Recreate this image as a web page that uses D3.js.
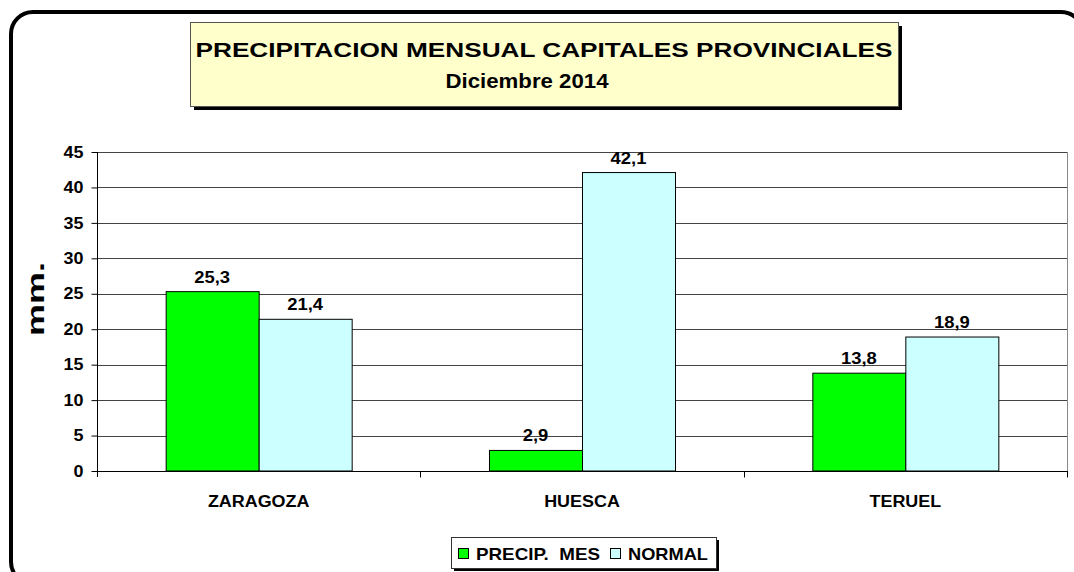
<!DOCTYPE html>
<html>
<head>
<meta charset="utf-8">
<script src="https://cdn.jsdelivr.net/npm/d3@7"></script>
<style>
  body { margin: 0; background: #fff; }
  svg { display: block; font-family: Arial, "Liberation Sans", sans-serif; }
</style>
</head>
<body>
<div id="chart"></div>
<script>
var cities = ["ZARAGOZA", "HUESCA", "TERUEL"];
var seriesNames = ["PRECIP.  MES", "NORMAL"];
var precipMes = [25.3, 2.9, 13.8];
var normal = [21.4, 42.1, 18.9];
var yTicks = [0, 5, 10, 15, 20, 25, 30, 35, 40, 45];
var colors = ["#00ff00", "#ccffff"];

var width = 1074, height = 572;
var plot = { left: 97, right: 1067, top: 152, bottom: 471 };

var svg = d3.select("#chart").append("svg")
  .attr("width", width)
  .attr("height", height);

// excel text looks wider than arial, stretch it a bit
function widen(sel, k) {
  sel.each(function () {
    var w = this.getComputedTextLength();
    d3.select(this).attr("textLength", w * k).attr("lengthAdjust", "spacingAndGlyphs");
  });
}

// outer rounded frame
svg.append("rect")
  .attr("x", 11).attr("y", 12)
  .attr("width", 1072).attr("height", 572)
  .attr("rx", 22)
  .attr("fill", "#fff")
  .attr("stroke", "#000")
  .attr("stroke-width", 4);

// title box
svg.append("rect")
  .attr("x", 194).attr("y", 26).attr("width", 708).attr("height", 84)
  .attr("fill", "#000");
svg.append("rect")
  .attr("x", 190.5).attr("y", 22.5).attr("width", 708).attr("height", 84)
  .attr("fill", "#ffffcc").attr("stroke", "#555").attr("stroke-width", 1);
svg.append("text")
  .attr("x", 544).attr("y", 57)
  .attr("text-anchor", "middle")
  .attr("font-size", 21).attr("font-weight", "bold")
  .attr("textLength", 697).attr("lengthAdjust", "spacingAndGlyphs")
  .text("PRECIPITACION MENSUAL CAPITALES PROVINCIALES");
svg.append("text")
  .attr("x", 527).attr("y", 88)
  .attr("text-anchor", "middle")
  .attr("font-size", 20).attr("font-weight", "bold")
  .attr("textLength", 163).attr("lengthAdjust", "spacingAndGlyphs")
  .text("Diciembre 2014");

var y = d3.scaleLinear().domain([0, 45]).range([plot.bottom, plot.top]);
var x0 = d3.scaleBand().domain(cities).range([plot.left, plot.right]);
var x1 = d3.scaleBand().domain(seriesNames).range([0, 186]);
var groupOffset = (x0.bandwidth() - 186) / 2;

// gridlines
svg.append("g")
  .selectAll("line")
  .data(yTicks.filter(d => d > 0))
  .enter().append("line")
  .attr("x1", plot.left).attr("x2", plot.right)
  .attr("y1", d => Math.round(y(d)) + 0.5).attr("y2", d => Math.round(y(d)) + 0.5)
  .attr("stroke", "#444").attr("stroke-width", 1);

// right edge of plot
svg.append("line")
  .attr("x1", plot.right + 0.5).attr("x2", plot.right + 0.5)
  .attr("y1", plot.top).attr("y2", plot.bottom)
  .attr("stroke", "#888");

// bars
var rows = cities.map((c, i) => ({ city: c, values: [precipMes[i], normal[i]] }));
var groups = svg.append("g").selectAll("g")
  .data(rows)
  .enter().append("g")
  .attr("transform", d => "translate(" + (x0(d.city) + groupOffset) + ",0)");

groups.selectAll("rect")
  .data(d => d.values.map((v, j) => ({ name: seriesNames[j], v: v, j: j })))
  .enter().append("rect")
  .attr("x", d => x1(d.name) + 0.5)
  .attr("y", d => y(d.v))
  .attr("width", x1.bandwidth())
  .attr("height", d => y(0) - y(d.v))
  .attr("fill", d => colors[d.j])
  .attr("stroke", "#000").attr("stroke-width", 1);

var valLabels = groups.selectAll("text")
  .data(d => d.values.map((v, j) => ({ name: seriesNames[j], v: v })))
  .enter().append("text")
  .attr("x", d => x1(d.name) + x1.bandwidth() / 2)
  .attr("y", d => y(d.v) - 9)
  .attr("text-anchor", "middle")
  .attr("font-size", 16).attr("font-weight", "bold")
  .text(d => d3.format(".1f")(d.v).replace(".", ","));
widen(valLabels, 1.15);

// y axis
var yAxis = svg.append("g")
  .attr("transform", "translate(" + (plot.left + 0.5) + ",0)")
  .call(d3.axisLeft(y).tickValues(yTicks).tickSize(6).tickSizeOuter(0).tickPadding(8));
yAxis.select(".domain").attr("stroke", "#000").attr("d", "M0," + plot.top + "V" + (plot.bottom + 6));
yAxis.selectAll(".tick line").attr("stroke", "#000");
var yLabels = yAxis.selectAll("text").attr("font-size", 16).attr("font-weight", "bold")
  .attr("font-family", "Arial, 'Liberation Sans', sans-serif").attr("fill", "#000");
widen(yLabels, 1.12);

// x axis
var xAxis = svg.append("g")
  .attr("transform", "translate(0," + (plot.bottom + 0.5) + ")");
xAxis.append("line")
  .attr("x1", plot.left).attr("x2", plot.right + 1)
  .attr("stroke", "#000");
xAxis.selectAll(".tick")
  .data(cities.map(c => x0(c) + x0.bandwidth()))
  .enter().append("line")
  .attr("x1", d => Math.round(d) + 0.5).attr("x2", d => Math.round(d) + 0.5)
  .attr("y1", 0).attr("y2", 6)
  .attr("stroke", "#000");
var xLabels = xAxis.selectAll("text")
  .data(cities)
  .enter().append("text")
  .attr("x", d => x0(d) + x0.bandwidth() / 2)
  .attr("y", 35)
  .attr("text-anchor", "middle")
  .attr("font-size", 16).attr("font-weight", "bold")
  .text(d => d);
widen(xLabels, 1.12);

// y label
svg.append("text")
  .attr("transform", "translate(44,299) rotate(-90)")
  .attr("text-anchor", "middle")
  .attr("font-size", 24).attr("font-weight", "bold")
  .attr("textLength", 74).attr("lengthAdjust", "spacingAndGlyphs")
  .text("mm.");

// legend
var lg = svg.append("g").attr("transform", "translate(451,537)");
lg.append("rect").attr("x", 3).attr("y", 3).attr("width", 265).attr("height", 31).attr("fill", "#000");
lg.append("rect").attr("x", 0.5).attr("y", 0.5).attr("width", 265).attr("height", 31)
  .attr("fill", "#fff").attr("stroke", "#333");
var legendX = [7, 159];
var legendW = [124, 80];
seriesNames.forEach((n, i) => {
  lg.append("rect")
    .attr("x", legendX[i] + 0.5).attr("y", 11.5).attr("width", 10).attr("height", 10)
    .attr("fill", colors[i]).attr("stroke", "#000");
  lg.append("text")
    .attr("x", legendX[i] + 18).attr("y", 23)
    .attr("font-size", 17).attr("font-weight", "bold")
    .attr("xml:space", "preserve")
    .style("white-space", "pre")
    .attr("textLength", legendW[i]).attr("lengthAdjust", "spacingAndGlyphs")
    .text(n);
});
</script>
</body>
</html>
